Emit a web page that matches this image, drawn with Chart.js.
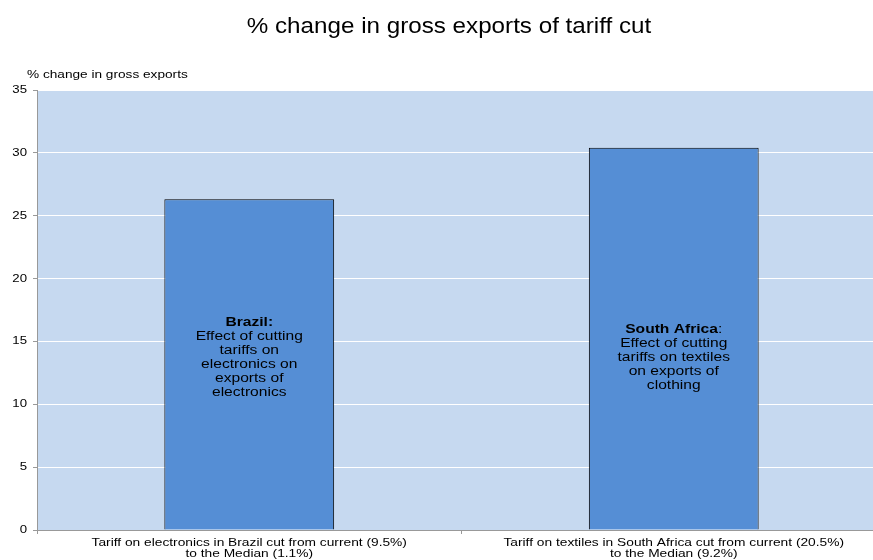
<!DOCTYPE html>
<html>
<head>
<meta charset="utf-8">
<script src="https://cdn.jsdelivr.net/npm/chart.js@4"></script>
<style>
  html, body { margin: 0; padding: 0; background: #fff; overflow: hidden; }
  #wrap { width: 886px; height: 560px; }
</style>
</head>
<body>
<div id="wrap"><canvas id="chart" width="886" height="560"></canvas></div>
<script>
const categories = [
  ['Tariff on electronics in Brazil cut from current (9.5%)', 'to the Median (1.1%)'],
  ['Tariff on textiles in South Africa cut from current (20.5%)', 'to the Median (9.2%)']
];
const exportChange = [26.3, 30.4];
const yTicks = [0, 5, 10, 15, 20, 25, 30, 35];

// text written inside each bar: bold country name, then plain lines
const noteNames = ['Brazil:', 'South Africa'];
const noteNameSuffix = ['', ':'];
const noteLines = [
  ['Effect of cutting', 'tariffs on', 'electronics on', 'exports of', 'electronics'],
  ['Effect of cutting', 'tariffs on textiles', 'on exports of', 'clothing']
];
const noteCenterValue = 13.7;

const FONT = 'Arial, "Liberation Sans", sans-serif';

// the export fonts run wide, so text is drawn with a horizontal stretch
function wideText(ctx, text, x, y, font, sx, align) {
  ctx.save();
  ctx.font = font;
  const w = ctx.measureText(text).width * sx;
  let left = x;
  if (align === 'center') left = x - w / 2;
  else if (align === 'right') left = x - w;
  ctx.translate(left, y);
  ctx.scale(sx, 1);
  ctx.textAlign = 'left';
  ctx.textBaseline = 'middle';
  ctx.fillText(text, 0, 0);
  ctx.restore();
  return w;
}

function textWidth(ctx, text, font, sx) {
  ctx.save();
  ctx.font = font;
  const w = ctx.measureText(text).width * sx;
  ctx.restore();
  return w;
}

const decorations = {
  id: 'decorations',
  beforeDraw(chart) {
    const { ctx, chartArea: a } = chart;
    ctx.save();
    ctx.fillStyle = '#c6d9f0';
    ctx.fillRect(a.left, a.top, a.right - a.left, a.bottom - a.top);
    ctx.fillStyle = '#000';
    wideText(ctx, '% change in gross exports of tariff cut', 449, 27, '22px ' + FONT, 1.1, 'center');
    wideText(ctx, '% change in gross exports', 27, 75, '11px ' + FONT, 1.24, 'left');
    ctx.restore();
  },
  afterDraw(chart) {
    const { ctx, scales } = chart;
    ctx.save();
    ctx.fillStyle = '#000';
    yTicks.forEach(v => {
      wideText(ctx, String(v), 27, scales.y.getPixelForValue(v), '11px ' + FONT, 1.2, 'right');
    });
    categories.forEach((lines, i) => {
      const x = scales.x.getPixelForValue(i);
      lines.forEach((line, j) => {
        wideText(ctx, line, x, 543 + j * 11, '11px ' + FONT, 1.25, 'center');
      });
    });
    ctx.restore();
  },
  afterDatasetsDraw(chart) {
    const { ctx } = chart;
    const meta = chart.getDatasetMeta(0);
    const y0 = chart.scales.y.getPixelForValue(noteCenterValue);
    const lh = 14;
    const sx = 1.3;
    const bold = 'bold 12px ' + FONT;
    const plain = '12px ' + FONT;
    ctx.save();
    ctx.fillStyle = '#000';
    meta.data.forEach((bar, i) => {
      const n = noteLines[i].length + 1;
      let y = y0 - (n - 1) * lh / 2;
      const wb = textWidth(ctx, noteNames[i], bold, sx);
      const ws = textWidth(ctx, noteNameSuffix[i], plain, sx);
      const x = bar.x - (wb + ws) / 2;
      wideText(ctx, noteNames[i], x, y, bold, sx, 'left');
      wideText(ctx, noteNameSuffix[i], x + wb, y, plain, sx, 'left');
      noteLines[i].forEach(line => {
        y += lh;
        wideText(ctx, line, bar.x, y, plain, sx, 'center');
      });
    });
    ctx.restore();
  }
};

new Chart(document.getElementById('chart'), {
  type: 'bar',
  data: {
    labels: categories,
    datasets: [{
      data: exportChange,
      backgroundColor: '#558ed5',
      borderColor: '#000',
      borderWidth: 1,
      borderSkipped: 'bottom',
      categoryPercentage: 0.4,
      barPercentage: 1
    }]
  },
  options: {
    responsive: false,
    animation: false,
    layout: { padding: { top: 90, left: 0, right: 0, bottom: 0 } },
    plugins: { legend: { display: false }, tooltip: { enabled: false } },
    scales: {
      x: {
        afterFit(scale) { scale.height = 30; },
        grid: { display: true, drawOnChartArea: false, color: '#999', tickLength: 4 },
        border: { color: '#999' },
        ticks: { display: false }
      },
      y: {
        min: 0,
        max: 35,
        afterBuildTicks(scale) { scale.ticks = yTicks.map(v => ({ value: v })); },
        afterFit(scale) { scale.width = 37; },
        grid: { color: '#fff', tickColor: '#999', tickLength: 4 },
        border: { color: '#999' },
        ticks: { display: false }
      }
    }
  },
  plugins: [decorations]
});
</script>
</body>
</html>
